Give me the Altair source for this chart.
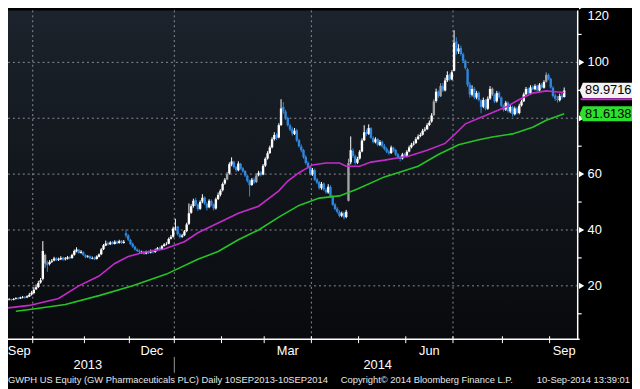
import altair as alt
import pandas as pd

W, H = 577, 333

# ---------------- daily OHLC (trading-day index 0 = 10 Sep 2013) ----------------
opens = [
    14.3, 14.6, 14.9, 14.6, 15.0, 15.2, 15.0, 15.3, 15.7, 15.5, 15.8, 16.1, 15.8, 16.2,
    16.9, 17.4, 18.8, 19.6, 21.2, 22.5, 31.0, 28.2,
    27.8, 28.6, 29.1, 29.9, 29.3, 29.5, 30.1, 29.5, 29.7, 30.3,
    30.0, 31.1, 32.4, 32.9, 31.8, 32.0, 31.0, 30.3, 30.6, 29.8, 30.1, 29.6, 30.4,
    31.3, 33.1, 34.4, 35.3, 34.9, 35.6, 35.0, 35.9, 35.3, 36.1, 35.3,
    38.8, 38.0, 36.4, 35.1, 34.0, 33.0, 32.6, 31.9, 32.1, 31.6, 32.3, 31.9, 32.6, 32.1,
    32.9, 33.6, 33.0, 34.3, 34.9, 35.1, 36.9, 37.6, 40.8, 41.2, 38.4, 37.6, 38.1, 39.6, 42.2,
    46.2, 48.6, 50.7, 49.1, 47.6, 50.2, 51.6, 49.4, 48.1, 50.4, 49.1, 47.7, 51.1,
    52.6, 54.2, 56.6, 58.1, 60.2, 63.4, 64.4, 62.6, 61.4, 63.7, 62.1, 61.1, 59.4, 57.6, 56.1, 58.1, 57.2, 59.6, 60.6,
    59.9, 63.1, 65.6, 67.6, 69.6, 72.6, 74.1, 73.1, 77.6, 84.0, 82.4, 80.1, 77.4, 76.1, 74.4, 75.6, 72.1, 69.9, 68.6, 66.1,
    64.1, 62.6, 59.9, 61.4, 58.1, 57.1, 54.9, 56.6, 54.4, 53.4, 55.4, 52.1, 49.1, 47.6, 46.4, 45.1, 46.1, 44.6,
    50.5, 64.2, 68.4, 66.4, 64.1, 65.6, 68.1, 72.1, 75.1, 74.4, 76.4, 72.9, 71.4, 72.6, 70.4, 71.6,
    70.1, 69.1, 68.1, 67.6, 69.4, 68.6, 67.1, 66.1, 65.6, 67.1, 66.4, 68.1, 69.6, 70.6, 71.1, 72.6, 73.6, 74.1, 75.6, 76.1, 77.6,
    78.8, 81.2, 86.2, 89.6, 87.9, 91.6, 89.9, 93.6, 95.6, 93.9, 97.0, 107.5, 103.9, 105.1, 102.9, 100.6, 97.5, 92.1,
    88.4, 90.6, 87.4, 89.1, 86.4, 84.1, 86.6, 83.4, 87.1, 90.6, 88.4, 86.1, 89.1, 87.4, 84.4, 83.1, 85.6, 82.4, 84.1, 81.4, 83.6, 81.9,
    84.6, 86.1, 88.6, 90.6, 88.9, 91.1, 90.4, 91.6, 89.9, 92.1, 90.9, 93.1, 95.6, 94.1, 90.9, 88.1, 86.9, 86.4, 88.1, 87.6,
]
highs = [
    15.0, 15.2, 15.1, 15.3, 15.6, 15.4, 15.6, 15.9, 15.9, 16.1, 16.4, 16.3, 16.6, 17.5,
    18.2, 19.5, 20.5, 21.8, 22.8, 36.0, 31.5, 29.0,
    29.2, 29.6, 30.4, 30.2, 30.1, 30.6, 30.4, 30.3, 30.7, 30.6,
    31.5, 33.0, 33.8, 33.2, 32.8, 32.4, 31.3, 31.0, 30.9, 30.5, 30.4, 30.9, 31.6,
    33.5, 35.0, 36.2, 35.8, 36.0, 36.0, 36.3, 36.2, 36.5, 36.4, 36.4,
    40.2, 38.5, 36.8, 35.5, 34.4, 33.4, 33.0, 32.6, 32.5, 32.6, 32.6, 33.0, 33.0, 33.3,
    33.9, 34.0, 34.6, 35.3, 35.6, 37.3, 38.2, 41.2, 44.0, 41.5, 38.9, 38.6, 40.0, 42.6, 49.5,
    49.2, 51.2, 51.5, 49.5, 50.6, 52.8, 52.0, 49.9, 51.0, 50.9, 49.5, 51.6, 53.4,
    54.6, 57.0, 58.6, 60.8, 64.2, 66.0, 64.8, 62.8, 64.6, 64.0, 62.5, 61.4, 59.8, 58.0, 58.6, 58.8, 60.2, 61.2, 61.0,
    63.6, 66.0, 68.2, 70.2, 73.2, 75.0, 74.6, 78.2, 86.8, 85.8, 83.0, 80.6, 78.0, 76.8, 76.5, 76.2, 72.6, 70.6, 69.0, 66.8,
    64.6, 63.0, 62.2, 62.0, 58.6, 57.5, 57.2, 57.0, 55.0, 56.4, 56.0, 52.5, 49.6, 48.2, 47.0, 46.6, 46.6, 47.2,
    65.5, 73.5, 69.2, 67.0, 66.2, 68.6, 72.8, 77.5, 76.0, 77.8, 76.8, 73.5, 73.2, 72.9, 72.2, 72.0,
    70.8, 69.6, 68.6, 70.2, 69.8, 69.0, 67.6, 66.6, 67.6, 67.6, 68.6, 70.2, 71.2, 71.8, 73.2, 74.2, 74.8, 76.2, 76.8, 78.2, 79.2,
    81.8, 86.8, 90.6, 90.0, 92.5, 92.6, 94.5, 96.8, 96.0, 97.2, 111.5, 109.0, 106.5, 106.0, 103.5, 101.0, 98.0, 93.0,
    91.8, 91.2, 89.8, 89.6, 86.8, 87.4, 86.8, 87.8, 91.5, 91.0, 88.8, 89.8, 89.6, 87.8, 84.9, 86.2, 86.0, 84.8, 84.5, 84.2, 84.0, 85.2,
    86.6, 89.2, 91.2, 91.0, 91.8, 91.8, 92.2, 92.0, 92.6, 92.6, 93.6, 96.4, 96.0, 94.5, 91.5, 88.8, 88.0, 88.8, 89.6, 91.0,
]
lows = [
    14.0, 14.3, 14.2, 14.4, 14.8, 14.6, 14.8, 15.1, 15.1, 15.3, 15.5, 15.4, 15.6, 16.0,
    16.5, 17.0, 18.5, 19.2, 20.8, 22.0, 26.5, 25.0,
    27.3, 28.2, 28.8, 28.9, 28.9, 29.2, 29.0, 29.1, 29.4, 29.5,
    29.7, 30.8, 32.0, 31.5, 31.5, 30.7, 29.9, 30.0, 29.5, 29.5, 29.2, 29.4, 30.2,
    31.0, 32.8, 34.2, 34.4, 34.6, 34.8, 34.8, 35.0, 35.1, 35.0, 35.1,
    37.2, 36.0, 34.6, 33.6, 32.6, 32.1, 31.6, 31.4, 31.1, 31.3, 31.4, 31.6, 31.6, 31.8,
    32.6, 32.7, 32.8, 34.0, 34.5, 34.9, 36.6, 37.3, 39.8, 38.0, 37.0, 37.2, 37.8, 39.2, 41.8,
    45.8, 48.0, 48.5, 46.8, 47.2, 49.6, 49.0, 47.0, 47.8, 48.5, 47.0, 47.3, 50.7,
    52.0, 53.8, 56.2, 57.8, 59.8, 62.8, 62.0, 60.8, 61.0, 61.6, 60.5, 59.0, 57.0, 52.0, 55.8, 56.5, 56.8, 59.2, 59.2,
    59.6, 62.6, 65.2, 67.2, 69.2, 72.0, 72.2, 72.8, 77.2, 81.6, 79.4, 77.0, 75.4, 73.8, 74.0, 71.5, 69.5, 67.8, 65.5, 63.4,
    62.0, 59.5, 59.4, 57.5, 56.4, 54.5, 54.4, 54.0, 53.0, 53.0, 51.6, 48.6, 47.0, 45.9, 44.5, 44.6, 43.8, 44.2,
    50.2, 63.5, 65.8, 63.4, 63.6, 65.2, 67.8, 71.8, 73.8, 74.0, 72.6, 71.0, 71.0, 70.0, 70.0, 69.5,
    68.5, 67.5, 66.9, 67.2, 68.0, 66.5, 65.4, 64.6, 65.2, 66.0, 66.0, 67.8, 69.2, 70.2, 70.8, 72.2, 73.2, 73.8, 75.2, 75.8, 77.2,
    78.4, 80.8, 85.6, 87.2, 87.6, 89.4, 89.6, 93.0, 93.4, 93.6, 96.8, 102.8, 103.0, 102.4, 99.8, 97.4, 91.2, 87.4,
    87.8, 86.8, 86.8, 86.0, 81.8, 83.6, 82.8, 83.0, 86.6, 88.0, 85.4, 85.6, 87.0, 84.0, 82.4, 82.6, 82.0, 81.8, 80.6, 81.0, 81.4, 81.4,
    84.2, 85.8, 88.2, 88.6, 88.6, 90.0, 90.0, 89.6, 89.6, 90.6, 90.6, 92.8, 93.6, 90.6, 87.4, 86.2, 85.6, 86.0, 86.8, 87.4,
]
closes = [
    14.6, 14.8, 14.5, 15.0, 15.2, 14.9, 15.3, 15.6, 15.4, 15.8, 16.0, 15.7, 16.3, 16.8,
    17.5, 18.6, 19.5, 21.0, 22.0, 32.5, 28.0, 27.5,
    28.5, 29.0, 29.8, 29.2, 29.6, 30.0, 29.4, 29.8, 30.2, 29.9,
    31.0, 32.5, 33.0, 31.8, 32.2, 31.0, 30.2, 30.5, 29.8, 30.0, 29.5, 30.5, 31.2,
    33.0, 34.5, 35.2, 34.8, 35.5, 35.0, 35.8, 35.2, 36.0, 35.4, 35.8,
    38.0, 36.5, 35.0, 34.0, 33.0, 32.5, 32.0, 32.0, 31.5, 32.2, 31.8, 32.5, 32.0, 32.8,
    33.5, 33.0, 34.2, 34.8, 35.0, 36.8, 37.5, 40.5, 41.0, 38.5, 37.5, 38.0, 39.5, 42.0, 46.0,
    48.5, 50.5, 49.0, 47.5, 50.0, 51.5, 49.5, 48.0, 50.5, 49.0, 47.8, 51.0, 52.5,
    54.0, 56.5, 58.0, 60.0, 63.5, 64.5, 62.5, 61.5, 63.8, 62.0, 61.0, 59.5, 57.5, 56.0, 58.0, 57.0, 59.5, 60.5, 59.8,
    63.0, 65.5, 67.5, 69.5, 72.5, 74.0, 73.0, 77.5, 83.5, 82.5, 80.0, 77.5, 76.0, 74.5, 75.5, 72.0, 70.0, 68.5, 66.0, 64.0,
    62.5, 60.0, 61.5, 58.0, 57.0, 55.0, 56.5, 54.5, 53.5, 55.5, 52.0, 49.0, 47.5, 46.5, 45.0, 46.0, 44.5, 46.5,
    64.0, 68.5, 66.5, 64.0, 65.5, 68.0, 72.0, 75.0, 74.5, 76.5, 73.0, 71.5, 72.5, 70.5, 71.5, 70.0,
    69.0, 68.0, 67.5, 69.5, 68.5, 67.0, 66.0, 65.5, 67.0, 66.5, 68.0, 69.5, 70.5, 71.0, 72.5, 73.5, 74.0, 75.5, 76.0, 77.5, 78.5,
    81.0, 86.0, 89.5, 88.0, 91.5, 90.0, 93.5, 95.5, 94.0, 96.5, 107.0, 104.0, 105.0, 103.0, 100.5, 98.0, 92.0, 88.5,
    90.5, 87.5, 89.0, 86.5, 84.0, 86.5, 83.5, 87.0, 90.5, 88.5, 86.0, 89.0, 87.5, 84.5, 83.0, 85.5, 82.5, 84.0, 81.5, 83.5, 82.0, 84.5,
    86.0, 88.5, 90.5, 89.0, 91.0, 90.5, 91.5, 90.0, 92.0, 91.0, 93.0, 95.5, 94.0, 91.0, 88.0, 87.0, 86.5, 88.0, 87.5, 89.97,
]
gray_days = [20, 101, 114, 155, 193, 196, 219, 243]

# ---------------- moving averages (read at sampled days) ----------------
ma50_day = [0, 13, 26, 35, 44, 51, 57, 64, 73, 82, 88, 97, 106, 115, 124, 128, 133, 139,
            145, 151, 154, 160, 165, 171, 182, 190, 198, 202, 207, 213, 216, 225, 231, 237, 243, 247, 251]
ma50_val = [11.8, 13.0, 15.5, 20.0, 23.5, 28.0, 30.5, 32.0, 33.2, 35.8, 39.0, 42.5, 46.0, 48.5, 54.0, 57.5, 60.5, 63.3,
            64.0, 64.0, 62.8, 62.8, 64.3, 65.0, 66.5, 68.5, 71.0, 74.0, 78.0, 80.0, 81.0, 84.0, 86.7, 89.0, 89.8, 89.5, 89.2]
ma100_day = [7, 14, 29, 44, 59, 74, 88, 97, 106, 115, 124, 133, 142, 151, 159, 171, 177, 186,
             195, 204, 213, 219, 228, 237, 243, 251]
ma100_val = [10.9, 11.6, 13.3, 16.5, 20.0, 24.2, 29.5, 32.3, 36.5, 40.0, 44.6, 48.8, 51.4, 52.2, 54.7, 59.0, 60.5, 62.8,
             67.0, 70.5, 72.3, 73.3, 74.4, 76.8, 79.3, 81.6]

# ---------------- axis / annotation data ----------------
month_bounds = [14.5, 37.5, 57.5, 77.5, 98.5, 117.5, 138.5, 159.5, 180.5, 201.5, 223.5, 244.5]
quarter_bounds = [14.5, 77.5, 138.5, 201.5]
month_label_pos = [8.5, 67.5, 128, 191, 251]
month_labels = ["Sep", "Dec", "Mar", "Jun", "Sep"]
year_label_pos = [39, 168]
year_labels = ["2013", "2014"]
year_sep = [77.5]
y_major = [20, 40, 60, 80, 100, 120]
y_minor = [10, 30, 50, 70, 90, 110]
y_label_vals = [20, 40, 60, 100]      # "80" sits under the green price box
y_label_txt = ["20", "40", "60", "100"]
y_top_val = [120]
y_top_txt = ["120"]
last_labels = ["89.9716", "81.6138"]
last_values = [89.9716, 81.6138]
last_colors = ["#f2f2f2", "#2ee02e"]
ma50_marker = [86.8]
footer_texts = ["GWPH US Equity (GW Pharmaceuticals PLC)  Daily 10SEP2013-10SEP2014",
                "Copyright\u00a9 2014 Bloomberg Finance L.P.",
                "10-Sep-2014 13:39:01"]

FONT = "Liberation Sans"
BLUE = "#2f88e0"

n = len(closes)
assert len(opens) == n and len(highs) == n and len(lows) == n, (len(opens), len(highs), len(lows), n)
kind = []
for k in range(n):
    if k in gray_days:
        kind.append("gray")
    elif closes[k] >= opens[k]:
        kind.append("up")
    else:
        kind.append("down")
candles = pd.DataFrame({"i": list(range(n)), "open": opens, "high": highs, "low": lows,
                        "close": closes, "kind": kind})

xscale = alt.Scale(domain=[3.5, 257], nice=False, zero=False)
yscale = alt.Scale(domain=[0.9, 118.6], nice=False, zero=False)
ccolor = alt.Color("kind:N", scale=alt.Scale(domain=["up", "down", "gray"],
                                             range=["#ffffff", BLUE, "#a3a3a3"]), legend=None)


def X(field):
    return alt.X(field, scale=xscale, axis=None)


def Y(field):
    return alt.Y(field, scale=yscale, axis=None)


one = pd.DataFrame({"a": [0]})

bg = alt.Chart(one).mark_rect(
    fill=alt.LinearGradient(gradient="linear",
                            stops=[alt.GradientStop(color="#1c232c", offset=0),
                                   alt.GradientStop(color="#080a0d", offset=1)],
                            x1=0, x2=0, y1=0, y2=1)
).encode(x=alt.value(0), x2=alt.value(W), y=alt.value(0), y2=alt.value(H))

hgrid = alt.Chart(pd.DataFrame({"v": y_major})).mark_rule(
    color="#8a8f95", strokeDash=[2, 3], strokeWidth=1, clip=True).encode(y=Y("v:Q"))

vgrid = alt.Chart(pd.DataFrame({"p": quarter_bounds})).mark_rule(
    color="#8a8f95", strokeDash=[2, 3], strokeWidth=1).encode(x=X("p:Q"))

wicks = alt.Chart(candles).mark_rule(strokeWidth=1, clip=True).encode(
    x=X("i:Q"), y=Y("low:Q"), y2="high:Q", color=ccolor)

bodies = alt.Chart(candles).mark_rule(strokeWidth=2.4, clip=True).encode(
    x=X("i:Q"), y=Y("open:Q"), y2="close:Q", color=ccolor)

ma50 = alt.Chart(pd.DataFrame({"d": ma50_day, "v": ma50_val})).mark_line(
    color="#c42bcc", strokeWidth=1.6, clip=True).encode(x=X("d:Q"), y=Y("v:Q"))

ma100 = alt.Chart(pd.DataFrame({"d": ma100_day, "v": ma100_val})).mark_line(
    color="#25c425", strokeWidth=1.6, clip=True).encode(x=X("d:Q"), y=Y("v:Q"))

# ---- axes drawn as marks on the shared scales ----
x_domain = alt.Chart(one).mark_rule(color="white", strokeWidth=1.5).encode(
    y=alt.value(H), x=alt.value(0), x2=alt.value(W + 2))
y_domain = alt.Chart(one).mark_rule(color="white", strokeWidth=1.5).encode(
    x=alt.value(W), y=alt.value(0), y2=alt.value(H))
x_ticks = alt.Chart(pd.DataFrame({"p": month_bounds})).mark_rule(color="white", strokeWidth=1).encode(
    x=X("p:Q"), y=alt.value(H - 3), y2=alt.value(H + 4))
y_minor_ticks = alt.Chart(pd.DataFrame({"v": y_minor})).mark_rule(color="white", strokeWidth=1.2).encode(
    y=Y("v:Q"), x=alt.value(W), x2=alt.value(W + 4))
y_major_ticks = alt.Chart(pd.DataFrame({"v": y_major})).mark_point(
    shape="triangle-right", filled=True, size=38, color="white", opacity=1, clip=False).encode(
    y=Y("v:Q"), x=alt.value(W + 4))
y_lab_main = alt.Chart(pd.DataFrame({"v": y_label_vals, "t": y_label_txt})).mark_text(
    font=FONT, fontSize=13, color="white", align="left", baseline="middle").encode(
    y=Y("v:Q"), x=alt.value(W + 10), text="t:N")
y_lab_top = alt.Chart(pd.DataFrame({"v": y_top_val, "t": y_top_txt})).mark_text(
    font=FONT, fontSize=13, color="white", align="left", baseline="middle", dy=10).encode(
    y=Y("v:Q"), x=alt.value(W + 10), text="t:N")

lab_df = pd.DataFrame({"v": last_values, "t": last_labels, "c": last_colors})
boxes = alt.Chart(lab_df).mark_point(
    shape="M -1 0 L -0.88 -0.29 L 1 -0.29 L 1 0.29 L -0.88 0.29 Z",
    filled=True, size=2809, opacity=1, strokeWidth=0
).encode(x=alt.value(W + 28.5), y=Y("v:Q"), fill=alt.Color("c:N", scale=None))
box_text = alt.Chart(lab_df).mark_text(
    font=FONT, fontSize=13, color="black", align="center", baseline="middle"
).encode(x=alt.value(W + 31), y=Y("v:Q"), text="t:N")

ma50_line = alt.Chart(pd.DataFrame({"v": ma50_marker})).mark_rule(
    color="#c42bcc", strokeWidth=2
).encode(y=Y("v:Q"), x=alt.value(W + 3), x2=alt.value(W + 55))

mlabels = alt.Chart(pd.DataFrame({"p": month_label_pos, "t": month_labels})).mark_text(
    font=FONT, fontSize=13, color="white", align="center", baseline="middle"
).encode(x=X("p:Q"), y=alt.value(H + 12), text="t:N")

ylabels = alt.Chart(pd.DataFrame({"p": year_label_pos, "t": year_labels})).mark_text(
    font=FONT, fontSize=13, color="white", align="center", baseline="middle"
).encode(x=X("p:Q"), y=alt.value(H + 26), text="t:N")

ysep = alt.Chart(pd.DataFrame({"p": year_sep})).mark_rule(color="#9a9a9a", strokeWidth=1).encode(
    x=X("p:Q"), y=alt.value(H + 18), y2=alt.value(H + 34))

foot_style = dict(font=FONT, fontSize=9.5, color="#e6e6e6", baseline="middle")
foot1 = alt.Chart(pd.DataFrame({"t": [footer_texts[0]]})).mark_text(align="left", **foot_style).encode(
    x=alt.value(0), y=alt.value(H + 41), text="t:N")
foot2 = alt.Chart(pd.DataFrame({"t": [footer_texts[1]]})).mark_text(align="left", **foot_style).encode(
    x=alt.value(337), y=alt.value(H + 41), text="t:N")
foot3 = alt.Chart(pd.DataFrame({"t": [footer_texts[2]]})).mark_text(align="right", **foot_style).encode(
    x=alt.value(630), y=alt.value(H + 41), text="t:N")

chart = alt.layer(
    bg, hgrid, vgrid, wicks, bodies, ma100, ma50,
    x_domain, y_domain, x_ticks, y_minor_ticks, y_major_ticks, y_lab_main, y_lab_top,
    ma50_line, boxes, box_text, mlabels, ylabels, ysep, foot1, foot2, foot3
).properties(
    width=W, height=H, background="black",
    padding={"left": 0, "top": 0, "right": 55, "bottom": 48},
    autosize=alt.AutoSizeParams(type="none"),
).configure_view(stroke=None)

chart.save("out.html", embed_options={"renderer": "svg", "actions": False})
